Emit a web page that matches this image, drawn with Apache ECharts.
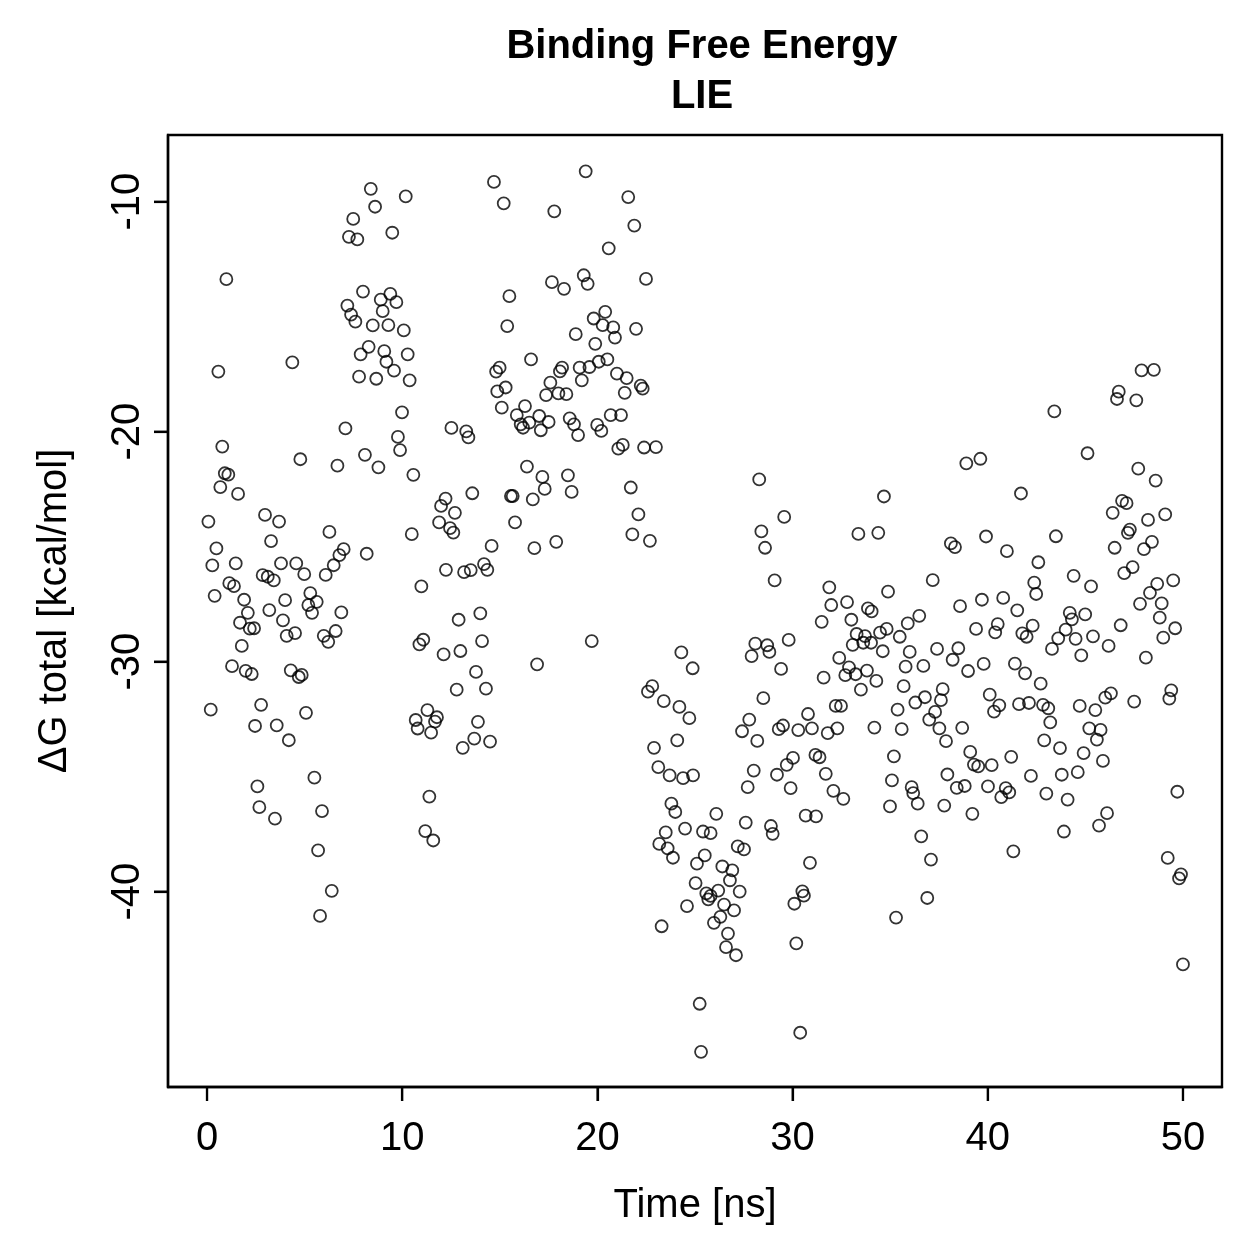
<!DOCTYPE html>
<html>
<head>
<meta charset="utf-8">
<script src="https://cdn.jsdelivr.net/npm/echarts@6/dist/echarts.min.js"></script>
<style>
  html, body { margin: 0; padding: 0; background: #fff; }
  #chart { width: 1259px; height: 1259px; }
</style>
</head>
<body>
<div id="chart"></div>
<script>
// [time (ns), ΔG total (kcal/mol)]
const ptsEarlyHigh = [
  [8.39,-9.44],[10.18,-9.77],[8.61,-10.22],[7.49,-10.75],[7.27,-11.53],[7.70,-11.64],[9.49,-11.35],[0.99,-13.37],
  [7.99,-13.91],[8.90,-14.26],[9.39,-14.01],[9.70,-14.37],[7.19,-14.52],[9.00,-14.76],[7.38,-14.91],[7.60,-15.22],
  [8.49,-15.38],[9.29,-15.37],[10.08,-15.60],[8.28,-16.31],[7.87,-16.64],[9.08,-16.50],[9.19,-16.96],[10.28,-16.64],
  [9.58,-17.35],[7.79,-17.61],[8.67,-17.70],[10.38,-17.77],[0.58,-17.39],[4.37,-16.99],[9.99,-19.16],[7.09,-19.86],
  [9.78,-20.23],[9.89,-20.80],[0.78,-20.65],[4.78,-21.20],[8.09,-21.01]
];

const ptsMidHigh = [
  [14.70,-9.14],[19.40,-8.68],[15.20,-10.07],[17.79,-10.42],[21.58,-9.80],[21.89,-11.04],[20.58,-12.03],[22.49,-13.36],
  [17.67,-13.50],[18.29,-13.79],[19.30,-13.20],[19.50,-13.57],[15.49,-14.11],[15.38,-15.41],[20.40,-14.79],[19.81,-15.08],
  [20.27,-15.37],[20.81,-15.47],[20.90,-15.91],[21.98,-15.53],[18.89,-15.76],[19.89,-16.18],[16.60,-16.86],[14.99,-17.22],
  [14.81,-17.39],[18.19,-17.22],[18.08,-17.38],[19.09,-17.22],[19.59,-17.19],[20.07,-16.96],[20.51,-16.86],[21.00,-17.48],
  [21.50,-17.67],[22.22,-18.00],[22.32,-18.13],[21.40,-18.31],[19.20,-17.77],[17.59,-17.87],[15.30,-18.08],[14.87,-18.25],
  [17.37,-18.41],[18.00,-18.34],[18.41,-18.37],[15.10,-18.96],[16.29,-18.89],[15.87,-19.28],[16.07,-19.68],[16.19,-19.83],
  [16.51,-19.61],[17.02,-19.32],[17.50,-19.58],[17.10,-19.94],[18.58,-19.42],[18.80,-19.68],[19.01,-20.15],[19.99,-19.71],
  [20.20,-19.97],[20.68,-19.28],[21.21,-19.28],[12.52,-19.84],[13.28,-19.99],[13.39,-20.25],[21.07,-20.74],[21.30,-20.58],
  [22.39,-20.69],[23.00,-20.67]
];

const ptsLateHigh = [
  [43.41,-19.12],[47.88,-17.34],[48.51,-17.31],[46.71,-18.26],[46.62,-18.58],[47.61,-18.64],[45.11,-20.94],[38.90,-21.38],
  [39.62,-21.18]
];

const ptsEarlyMid = [
  [6.68,-21.48],[8.78,-21.55],[10.57,-21.88],[0.91,-21.81],[1.09,-21.87],[0.68,-22.41],[1.59,-22.71],[2.97,-23.62],
  [3.69,-23.91],[0.07,-23.91],[6.27,-24.36],[12.22,-22.91],[11.99,-23.23],[11.89,-23.95],[10.49,-24.46],[3.28,-24.76],
  [0.48,-25.08],[7.00,-25.11],[6.78,-25.37],[6.49,-25.81],[6.08,-26.23],[8.18,-25.31],[0.27,-25.82],[1.47,-25.73],
  [3.79,-25.73],[4.57,-25.73],[4.98,-26.20],[2.85,-26.24],[3.11,-26.31],[3.42,-26.47],[1.14,-26.59],[1.38,-26.72],
  [12.24,-26.01],[10.98,-26.73],[0.39,-27.14],[1.90,-27.31],[4.00,-27.33],[5.29,-27.02],[5.62,-27.40],[5.19,-27.54],
  [5.38,-27.88],[6.88,-27.86],[2.09,-27.88],[3.19,-27.76],[3.89,-28.21],[1.69,-28.31],[2.19,-28.57],[2.41,-28.55],
  [4.51,-28.76],[4.08,-28.88],[5.98,-28.88],[6.21,-29.14],[6.59,-28.67],[1.78,-29.32],[11.08,-29.05],[10.88,-29.25],
  [12.12,-29.69],[1.28,-30.20],[1.98,-30.40],[2.29,-30.54],[4.29,-30.38],[4.85,-30.58],[4.70,-30.67],[0.19,-32.09],
  [2.77,-31.88],[5.07,-32.23],[2.46,-32.80],[3.57,-32.77],[4.19,-33.42],[11.29,-32.11],[10.69,-32.54],[10.79,-32.91],
  [11.78,-32.42],[11.68,-32.61],[11.48,-33.09]
];

const ptsCentreMid = [
  [16.39,-21.52],[17.18,-21.97],[18.49,-21.90],[17.30,-22.49],[18.68,-22.62],[16.69,-22.95],[15.57,-22.80],[15.66,-22.80],
  [13.59,-22.68],[12.70,-23.53],[12.45,-24.20],[12.62,-24.39],[15.78,-23.95],[14.58,-24.97],[16.77,-25.07],[17.89,-24.79],
  [21.71,-22.43],[22.10,-23.60],[21.79,-24.47],[22.69,-24.75],[13.17,-26.11],[13.51,-26.02],[14.19,-25.76],[14.36,-26.01],
  [12.89,-28.18],[14.00,-27.90],[14.09,-29.11],[12.98,-29.54],[13.78,-30.45],[12.79,-31.22],[14.29,-31.18],[19.71,-29.11],
  [16.91,-30.12],[24.30,-29.60],[24.88,-30.29],[22.81,-31.07],[22.59,-31.31],[23.40,-31.72],[24.20,-31.97],[24.71,-32.46],
  [24.09,-33.43],[22.90,-33.75],[13.88,-32.62],[13.69,-33.35],[14.50,-33.48],[13.10,-33.75]
];

const ptsThirtiesMid = [
  [28.29,-22.08],[34.68,-22.82],[29.57,-23.71],[28.40,-24.34],[28.59,-25.05],[33.37,-24.45],[34.39,-24.40],[29.08,-26.47],
  [31.88,-26.77],[34.89,-26.96],[37.18,-26.46],[31.98,-27.54],[32.79,-27.41],[33.86,-27.69],[34.05,-27.82],[31.49,-28.27],
  [33.01,-28.18],[36.49,-28.01],[35.90,-28.34],[34.82,-28.58],[34.48,-28.74],[35.49,-28.92],[33.28,-28.80],[33.71,-28.89],
  [33.62,-29.18],[34.02,-29.18],[33.08,-29.27],[34.62,-29.55],[36.00,-29.58],[37.40,-29.45],[28.09,-29.22],[28.70,-29.29],
  [27.90,-29.76],[28.81,-29.58],[29.80,-29.06],[29.41,-30.32],[32.39,-29.84],[32.89,-30.25],[32.70,-30.59],[33.23,-30.55],
  [33.81,-30.39],[34.29,-30.84],[33.50,-31.22],[31.59,-30.70],[35.79,-30.22],[36.70,-30.19],[35.69,-31.07],[37.69,-31.20],
  [36.78,-31.55],[36.29,-31.78],[37.60,-31.68],[35.38,-32.09],[37.30,-32.19],[37.00,-32.52],[37.52,-32.90],[37.86,-33.46],
  [28.50,-31.59],[30.79,-32.28],[32.21,-31.93],[32.48,-31.93],[27.78,-32.52],[27.41,-33.03],[28.19,-33.45],[29.29,-32.94],
  [29.51,-32.78],[30.29,-32.98],[30.99,-32.90],[31.80,-33.11],[32.29,-32.90],[34.19,-32.87],[35.59,-32.94],[30.02,-34.19],
  [31.17,-34.06],[31.38,-34.16],[35.19,-34.12]
];

const ptsFortiesMid = [
  [47.71,-21.61],[48.60,-22.13],[41.70,-22.69],[46.88,-23.01],[47.11,-23.11],[46.40,-23.53],[48.21,-23.84],[49.09,-23.60],
  [47.28,-24.26],[47.18,-24.40],[46.50,-25.05],[48.00,-25.11],[48.41,-24.79],[38.11,-24.86],[38.32,-25.02],[39.91,-24.56],
  [43.49,-24.55],[40.98,-25.20],[42.59,-25.68],[47.42,-25.89],[46.99,-26.15],[44.40,-26.27],[45.29,-26.73],[42.38,-26.57],
  [42.48,-27.06],[49.50,-26.47],[48.68,-26.62],[48.31,-27.01],[47.80,-27.49],[48.91,-27.47],[38.58,-27.59],[39.70,-27.31],
  [40.79,-27.23],[41.51,-27.77],[44.20,-27.88],[44.99,-27.95],[44.31,-28.16],[39.40,-28.58],[40.51,-28.37],[40.38,-28.73],
  [41.77,-28.77],[41.99,-28.92],[42.30,-28.44],[43.99,-28.61],[43.61,-28.99],[44.50,-29.01],[45.39,-28.90],[43.29,-29.45],
  [44.79,-29.73],[46.19,-29.32],[46.81,-28.42],[48.81,-28.09],[49.60,-28.55],[48.99,-28.96],[48.10,-29.83],[38.49,-29.42],
  [38.20,-29.92],[39.79,-30.10],[38.99,-30.41],[41.39,-30.09],[41.91,-30.51],[42.71,-30.96],[40.10,-31.44],[40.59,-31.90],
  [40.32,-32.18],[41.60,-31.85],[42.11,-31.80],[42.83,-31.88],[43.10,-32.03],[43.20,-32.64],[44.71,-31.93],[45.51,-32.11],
  [46.02,-31.57],[46.31,-31.38],[47.50,-31.74],[49.40,-31.25],[49.30,-31.61],[38.69,-32.88],[39.10,-33.93],[41.20,-34.14],
  [42.89,-33.43],[43.70,-33.76],[45.20,-32.90],[45.78,-32.97],[45.59,-33.39],[44.91,-33.98],[45.90,-34.32]
];

const ptsEarlyLow = [
  [2.58,-35.43],[2.68,-36.33],[3.48,-36.83],[5.50,-35.05],[5.89,-36.50],[5.69,-38.21],[6.39,-39.97],[5.79,-41.06],
  [11.39,-35.87],[11.18,-37.37],[11.59,-37.78]
];

const ptsDipLow = [
  [23.12,-34.59],[23.70,-34.95],[24.39,-35.07],[24.90,-34.95],[23.79,-36.18],[23.99,-36.54],[23.50,-37.43],[24.49,-37.26],
  [25.41,-37.39],[23.17,-37.93],[23.60,-38.12],[23.87,-38.53],[25.50,-38.43],[25.10,-38.79],[25.03,-39.63],[24.59,-40.63],
  [23.29,-41.51],[25.24,-44.88],[25.31,-46.97]
];

const ptsThirtiesLow = [
  [28.01,-34.74],[27.70,-35.46],[29.20,-34.92],[29.70,-34.49],[31.70,-34.88],[29.90,-35.50],[32.09,-35.62],[32.60,-35.97],
  [35.09,-35.17],[34.99,-36.30],[36.10,-35.46],[36.18,-35.72],[36.41,-36.18],[37.93,-34.91],[37.77,-36.26],[26.09,-36.62],
  [25.80,-37.46],[27.60,-37.00],[28.89,-37.15],[28.98,-37.49],[30.67,-36.70],[31.20,-36.73],[27.19,-38.04],[27.51,-38.17],
  [26.40,-38.91],[26.91,-39.08],[26.79,-39.51],[30.89,-38.75],[27.29,-40.00],[26.19,-39.96],[25.58,-40.08],[25.80,-40.19],
  [25.68,-40.34],[26.49,-40.57],[27.00,-40.82],[26.30,-41.10],[25.97,-41.36],[26.69,-41.83],[26.59,-42.42],[27.10,-42.77],
  [30.50,-39.99],[30.58,-40.18],[30.09,-40.53],[30.19,-42.25],[36.90,-40.28],[37.09,-38.61],[36.59,-37.60],[35.30,-41.13],
  [30.39,-46.14]
];

const ptsFortiesLow = [
  [39.29,-34.48],[39.51,-34.56],[40.20,-34.50],[38.41,-35.49],[38.82,-35.41],[40.01,-35.43],[40.92,-35.50],[41.10,-35.69],
  [40.69,-35.89],[42.21,-34.97],[43.79,-34.92],[44.61,-34.81],[43.00,-35.74],[44.09,-36.00],[39.21,-36.62],[46.11,-36.59],
  [45.70,-37.13],[43.90,-37.39],[41.31,-38.25],[49.71,-35.66],[49.22,-38.54],[49.90,-39.25],[49.80,-39.43],[50.00,-43.17]
];

const xTicks = [0, 10, 20, 30, 40, 50];
const yTicks = [-10, -20, -30, -40];

const allPoints = [].concat(
  ptsEarlyHigh, ptsMidHigh, ptsLateHigh, ptsEarlyMid, ptsCentreMid,
  ptsThirtiesMid, ptsFortiesMid, ptsEarlyLow, ptsDipLow, ptsThirtiesLow, ptsFortiesLow
);

const X_MIN = -2, X_MAX = 52;
const Y_MIN = -48.5, Y_MAX = -7.1;
const TICK_LEN = 14;
const TICK_W = 2.2;
const FONT = "'Liberation Sans', Arial, Helvetica, sans-serif";

const chart = echarts.init(document.getElementById('chart'), null, { renderer: 'canvas' });

// outward tick marks on the box edge (R base style), drawn as thin rect symbols
const tickSeries = (name, data, size, offset) => ({
  name,
  type: 'scatter',
  clip: false,
  silent: true,
  z: 5,
  data,
  symbol: 'rect',
  symbolSize: size,
  symbolOffset: offset,
  itemStyle: { color: '#000', borderWidth: 0 }
});

const option = {
  animation: false,
  backgroundColor: '#ffffff',
  title: {
    text: 'Binding Free Energy\nLIE',
    left: 697,
    top: 17,
    textAlign: 'center',
    textStyle: {
      color: '#000',
      fontFamily: FONT,
      fontSize: 40,
      fontWeight: 'bold',
      lineHeight: 50
    }
  },
  grid: {
    left: 168,
    right: 37,
    top: 135,
    bottom: 172,
    show: true,
    borderColor: '#000',
    borderWidth: 2.4,
    backgroundColor: 'transparent'
  },
  xAxis: {
    type: 'value',
    min: X_MIN,
    max: X_MAX,
    name: 'Time [ns]',
    nameLocation: 'middle',
    nameGap: 99,
    nameTextStyle: { color: '#000', fontFamily: FONT, fontSize: 40 },
    axisLine: { show: true, onZero: false, lineStyle: { color: '#000', width: 2.4 } },
    splitLine: { show: false },
    axisTick: {
      show: true,
      customValues: xTicks,
      length: TICK_LEN,
      lineStyle: { color: '#000', width: TICK_W }
    },
    axisLabel: {
      customValues: xTicks,
      color: '#000',
      fontFamily: FONT,
      fontSize: 40,
      margin: 32
    }
  },
  yAxis: {
    type: 'value',
    min: Y_MIN,
    max: Y_MAX,
    name: 'ΔG total [kcal/mol]',
    nameLocation: 'middle',
    nameGap: 93,
    nameRotate: 90,
    nameTextStyle: { color: '#000', fontFamily: FONT, fontSize: 40 },
    axisLine: { show: true, onZero: false, lineStyle: { color: '#000', width: 2.4 } },
    splitLine: { show: false },
    axisTick: {
      show: true,
      customValues: yTicks,
      length: TICK_LEN,
      lineStyle: { color: '#000', width: TICK_W }
    },
    axisLabel: {
      customValues: yTicks,
      rotate: 90,
      align: 'center',
      verticalAlign: 'bottom',
      color: '#000',
      fontFamily: FONT,
      fontSize: 40,
      margin: 20
    }
  },
  series: [
    {
      name: 'LIE',
      type: 'scatter',
      data: allPoints,
      symbol: 'circle',
      symbolSize: 12,
      itemStyle: {
        color: 'rgba(0,0,0,0)',
        borderColor: '#000',
        borderWidth: 1.8
      }
    },
    tickSeries('xTickMarks', xTicks.map(v => [v, Y_MIN]), [TICK_W, TICK_LEN], [0, TICK_LEN / 2]),
    tickSeries('yTickMarks', yTicks.map(v => [X_MIN, v]), [TICK_LEN, TICK_W], [-TICK_LEN / 2, 0])
  ]
};

chart.setOption(option);
</script>
</body>
</html>
